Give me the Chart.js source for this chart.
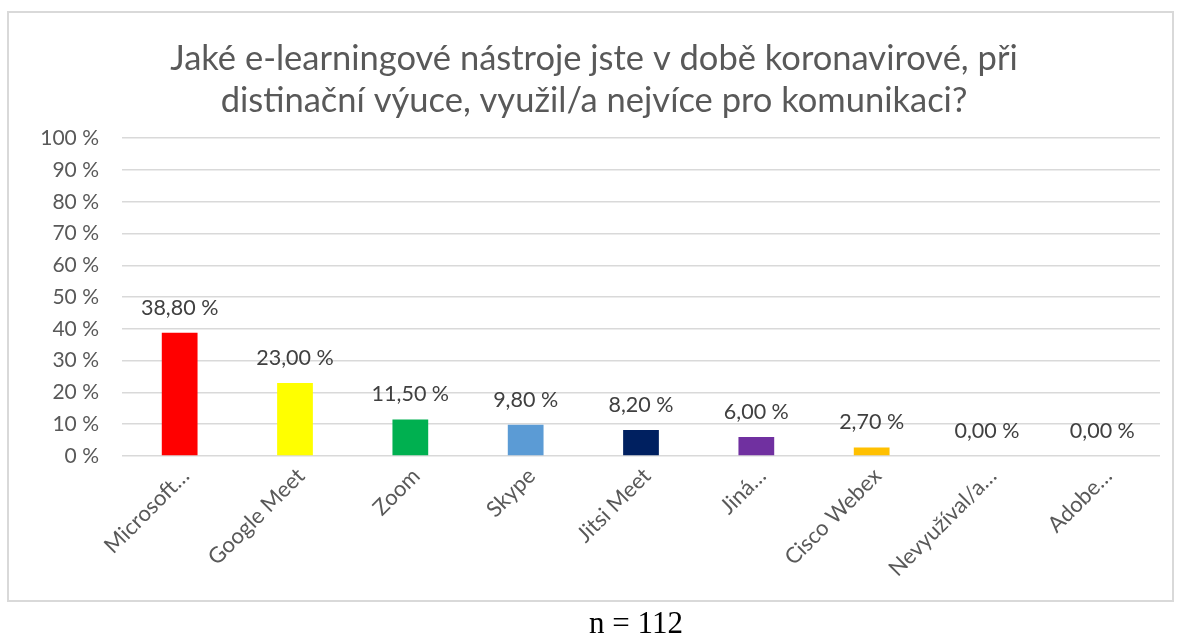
<!DOCTYPE html>
<html>
<head>
<meta charset="utf-8">
<script src="https://cdn.jsdelivr.net/npm/chart.js@4"></script>
<style>
  body { margin: 0; background: #fff; }
  #wrap { position: relative; width: 1178px; height: 635px; }
  #graf { position: absolute; left: 0; top: 0; }
  #ramecek { position: absolute; left: 7px; top: 11px; width: 1163px; height: 587px; border: 2px solid #d9d9d9; pointer-events: none; }
  #pocet { position: absolute; left: 47px; width: 1178px; top: 607px; text-align: center; font-family: "Liberation Serif", serif; font-size: 31px; line-height: 1; color: #000; }
</style>
</head>
<body>
<div id="wrap">
  <canvas id="graf" width="1178" height="600"></canvas>
  <div id="ramecek"></div>
  <div id="pocet">n = 112</div>
</div>
<script>
const nazev = ['Jaké e-learningové nástroje jste v době koronavirové, při', 'distinační výuce, využil/a nejvíce pro komunikaci?'];
const kategorie = ['Microsoft…', 'Google Meet', 'Zoom', 'Skype', 'Jitsi Meet', 'Jiná…', 'Cisco Webex', 'Nevyužíval/a…', 'Adobe…'];
const hodnoty = [38.8, 23.0, 11.5, 9.8, 8.2, 6.0, 2.7, 0, 0];
const barvy = ['#ff0000', '#ffff00', '#00b050', '#5b9bd5', '#002060', '#7030a0', '#ffc000', '#a5a5a5', '#a5a5a5'];

function formatProcenta(v) {
    return v.toFixed(2).replace('.', ',') + ' %';
}

// popisky hodnot nad sloupci
const popiskyPlugin = {
    id: 'popisky',
    afterDatasetsDraw(chart) {
        const ctx = chart.ctx;
        const meta = chart.getDatasetMeta(0);
        ctx.save();
        ctx.font = '21.5px Lato';
        ctx.fillStyle = '#404040';
        ctx.textAlign = 'center';
        ctx.textBaseline = 'alphabetic';
        meta.data.forEach((bar, i) => {
            ctx.fillText(formatProcenta(hodnoty[i]), bar.x, bar.y - 18);
        });
        ctx.restore();
    }
};

const ctx = document.getElementById('graf').getContext('2d');
new Chart(ctx, {
    type: 'bar',
    data: {
        labels: kategorie,
        datasets: [{
            data: hodnoty,
            backgroundColor: barvy,
            borderWidth: 0,
            barPercentage: 0.31,
            categoryPercentage: 1
        }]
    },
    options: {
        responsive: false,
        animation: false,
        layout: { padding: { left: 28, right: 18, top: 0, bottom: 0 } },
        plugins: {
            legend: { display: false },
            tooltip: { enabled: false },
            title: {
                display: true,
                text: nazev,
                color: '#595959',
                font: { family: 'Lato', size: 34.5, weight: 'normal', lineHeight: 1.22 },
                padding: { top: 38, bottom: 16 }
            }
        },
        scales: {
            y: {
                min: 0,
                max: 100,
                ticks: {
                    stepSize: 10,
                    color: '#595959',
                    font: { family: 'Lato', size: 21 },
                    padding: 23,
                    callback: v => v + ' %'
                },
                grid: { color: '#d9d9d9', lineWidth: 1.5, drawTicks: false },
                border: { display: false },
                afterFit(scale) { scale.width = 94; }
            },
            x: {
                ticks: {
                    color: '#595959',
                    font: { family: 'Lato', size: 22 },
                    minRotation: 45,
                    maxRotation: 45,
                    autoSkip: false,
                    padding: 7,
                    labelOffset: 6
                },
                grid: { display: false, drawTicks: false },
                border: { display: false },
                afterFit(scale) { scale.height = 144; }
            }
        }
    },
    plugins: [popiskyPlugin]
});
</script>
</body>
</html>
